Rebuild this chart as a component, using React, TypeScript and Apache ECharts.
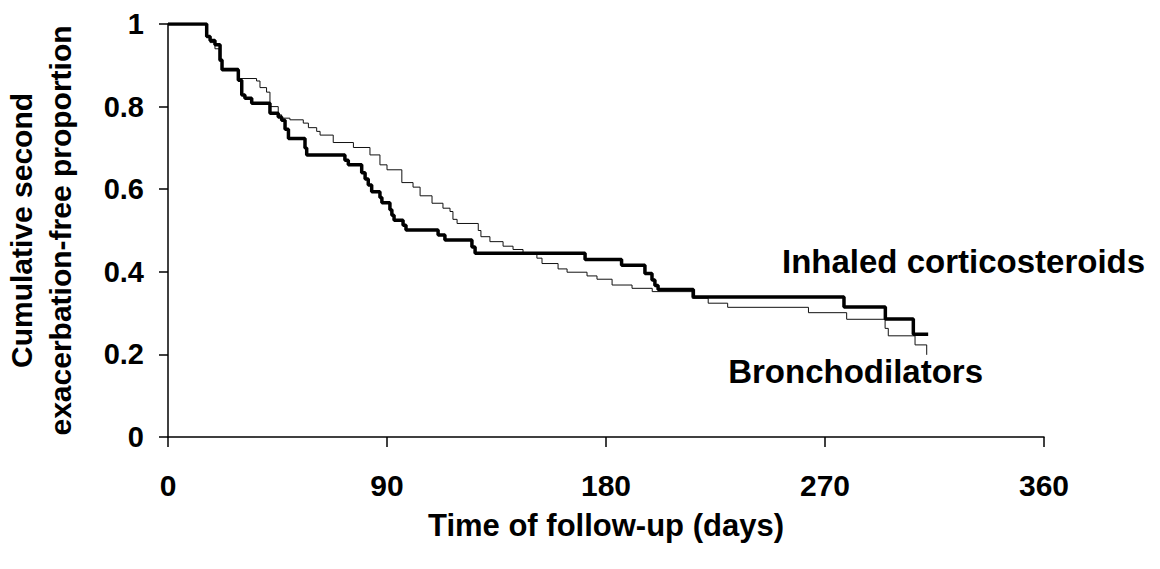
import React, { useEffect, useRef } from "react";
import * as echarts from "echarts";

const xTickValues = [0, 90, 180, 270, 360];
const yTickValues = [0, 0.2, 0.4, 0.6, 0.8, 1];

const icsDays = [0, 15.9, 17.3, 19.3, 21.4, 22.2, 28.9, 30.3, 31.6, 34.4, 41.9, 45.3, 46.7, 48.1, 49.5, 56.3, 57.0, 72.7, 74.1, 79.6, 81.0, 82.3, 83.7, 87.1, 87.9, 91.2, 92.0, 92.9, 96.6, 97.8, 111.0, 113.8, 124.9, 126.2, 171.4, 186.4, 196.0, 198.9, 200.1, 201.4, 215.9, 277.8, 294.8, 306.3, 312.4];
const icsValues = [1.0, 0.97, 0.96, 0.95, 0.913, 0.889, 0.864, 0.828, 0.82, 0.808, 0.784, 0.775, 0.767, 0.745, 0.723, 0.70, 0.683, 0.67, 0.659, 0.64, 0.625, 0.61, 0.594, 0.58, 0.567, 0.55, 0.537, 0.525, 0.513, 0.501, 0.489, 0.477, 0.46, 0.445, 0.43, 0.416, 0.396, 0.38, 0.367, 0.357, 0.339, 0.315, 0.286, 0.249, 0.249];

const bronDays = [0, 15.9, 17.3, 19.3, 21.0, 22.2, 28.9, 36.4, 37.8, 40.5, 41.9, 45.3, 46.7, 50.1, 55.6, 57.7, 61.1, 62.5, 67.9, 76.2, 83.0, 87.1, 90.0, 96.1, 100.7, 103.6, 108.5, 113.0, 115.9, 117.1, 118.8, 127.5, 128.6, 132.3, 137.7, 141.8, 145.9, 151.6, 153.7, 160.3, 164.0, 172.2, 176.3, 182.5, 190.7, 199.0, 215.4, 222.0, 230.0, 263.2, 278.9, 294.7, 296.0, 307.0, 311.8];
const bronValues = [1.0, 0.97, 0.955, 0.94, 0.91, 0.893, 0.868, 0.862, 0.846, 0.835, 0.80, 0.78, 0.772, 0.768, 0.76, 0.749, 0.74, 0.731, 0.713, 0.701, 0.683, 0.659, 0.647, 0.616, 0.605, 0.584, 0.566, 0.554, 0.546, 0.527, 0.517, 0.50, 0.485, 0.473, 0.462, 0.454, 0.443, 0.433, 0.42, 0.407, 0.399, 0.39, 0.382, 0.368, 0.36, 0.352, 0.336, 0.324, 0.314, 0.301, 0.285, 0.263, 0.245, 0.223, 0.199];

const seriesNames = ["Inhaled corticosteroids", "Bronchodilators"];
const xAxisTitle = "Time of follow-up (days)";
const yAxisTitle = "Cumulative second\nexacerbation-free proportion";

const FONT = "'Liberation Sans', Arial, Helvetica, sans-serif";

export default function App() {
  const ref = useRef<HTMLDivElement>(null);
  useEffect(() => {
    if (!ref.current) return;
    const chart = echarts.init(ref.current, null, { renderer: "svg" });
    const axisLineStyle = { color: "#000", width: 1.5 };
    chart.setOption({
      animation: false,
      backgroundColor: "#ffffff",
      grid: { left: 168, right: 116, top: 24, bottom: 132, containLabel: false, outerBoundsMode: "none" },
      xAxis: {
        type: "value",
        min: xTickValues[0],
        max: xTickValues[xTickValues.length - 1],
        interval: 90,
        name: xAxisTitle,
        nameLocation: "middle",
        nameGap: 73,
        nameTextStyle: { fontFamily: FONT, fontWeight: "bold", fontSize: 31, color: "#000" },
        axisLine: { show: true, onZero: true, lineStyle: axisLineStyle },
        axisTick: { show: true, inside: false, length: 10, lineStyle: axisLineStyle },
        axisLabel: { margin: 33, fontFamily: FONT, fontWeight: "bold", fontSize: 30, color: "#000" },
        splitLine: { show: false },
      },
      yAxis: {
        type: "value",
        min: yTickValues[0],
        max: yTickValues[yTickValues.length - 1],
        interval: 0.2,
        name: yAxisTitle,
        nameLocation: "middle",
        nameRotate: 90,
        nameGap: 88,
        nameTextStyle: { fontFamily: FONT, fontWeight: "bold", fontSize: 30, color: "#000", lineHeight: 39, align: "center" },
        axisLine: { show: true, lineStyle: axisLineStyle },
        axisTick: { show: true, inside: false, length: 9, lineStyle: axisLineStyle },
        axisLabel: {
          margin: 24,
          fontFamily: FONT,
          fontWeight: "bold",
          fontSize: 29,
          color: "#000",
          formatter: (v: number) => String(Number(v.toFixed(1))),
        },
        splitLine: { show: false },
      },
      series: [
        {
          name: seriesNames[0],
          type: "line",
          step: "end",
          symbol: "none",
          data: icsDays.map((d, i) => [d, icsValues[i]]),
          lineStyle: { color: "#000", width: 3.5 },
          z: 3,
        },
        {
          name: seriesNames[1],
          type: "line",
          step: "end",
          symbol: "none",
          data: bronDays.map((d, i) => [d, bronValues[i]]),
          lineStyle: { color: "#111", width: 1 },
          z: 2,
        },
      ],
      graphic: [
        {
          type: "text",
          left: 782,
          top: 245,
          style: { text: seriesNames[0], fontFamily: FONT, fontWeight: "bold", fontSize: 33, fill: "#000" },
        },
        {
          type: "text",
          right: 177,
          top: 355,
          style: { text: seriesNames[1], fontFamily: FONT, fontWeight: "bold", fontSize: 33, fill: "#000" },
        },
      ],
    });
    return () => chart.dispose();
  }, []);
  return (
    <div
      ref={ref}
      style={{ position: "absolute", left: 0, top: 0, width: 1160, height: 569, background: "#fff" }}
    />
  );
}
